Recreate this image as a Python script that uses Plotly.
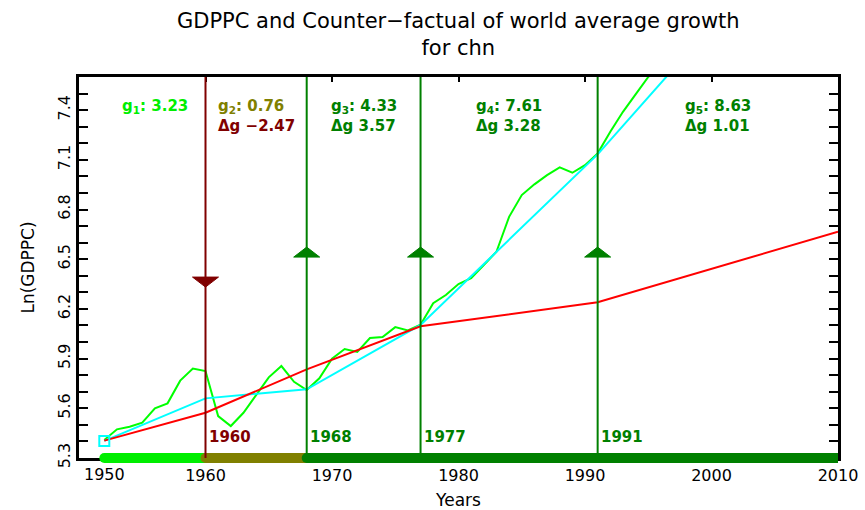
import plotly.graph_objects as go

# Ln GDP per capita, China, 1952-1996 (values above 7.6 run off the top of the frame)
years = list(range(1952, 1997))
ln_gdppc = [5.409, 5.473, 5.489, 5.513, 5.600, 5.630, 5.767, 5.840, 5.825, 5.553,
            5.493, 5.573, 5.680, 5.787, 5.855, 5.760, 5.710, 5.781, 5.900, 5.958,
            5.940, 6.024, 6.030, 6.090, 6.070, 6.105, 6.234, 6.284, 6.350, 6.385,
            6.465, 6.545, 6.756, 6.887, 6.952, 7.008, 7.054, 7.022, 7.068, 7.139,
            7.270, 7.390, 7.495, 7.600, 7.690]

# Piecewise trend and world-average counterfactual at the phase boundaries
node_years = [1952, 1960, 1968, 1977, 1991, 2010]
trend = [5.403, 5.660, 5.715, 6.103, 7.133, 8.770]
counterfactual = [5.405, 5.573, 5.835, 6.095, 6.240, 6.666]

# Phase growth rates and change at each break
g_labels = ["3.23", "0.76", "4.33", "7.61", "8.63"]
dg_labels = ["", "\u22122.47", "3.57", "3.28", "1.01"]
break_years = node_years[1:-1]
arrow_levels = [6.362, 6.543, 6.543, 6.543]

x_ticks = [1950, 1960, 1970, 1980, 1990, 2000, 2010]
y_ticks = [5.3, 5.6, 5.9, 6.2, 6.5, 6.8, 7.1, 7.4]

LIME = "#00ee00"
OLIVE = "#808000"
GREEN = "#008000"
MAROON = "#800000"
phase_colors = [LIME, OLIVE, GREEN, GREEN, GREEN]
break_colors = [MAROON if d.startswith("\u2212") else GREEN for d in dg_labels[1:]]

FONT = "DejaVu Sans"

fig = go.Figure()

fig.add_trace(go.Scatter(x=years, y=ln_gdppc, mode="lines",
                         line=dict(color="#00ff00", width=2), hoverinfo="skip"))
fig.add_trace(go.Scatter(x=node_years, y=trend, mode="lines",
                         line=dict(color="#00ffff", width=2), hoverinfo="skip"))
fig.add_trace(go.Scatter(x=node_years, y=counterfactual, mode="lines",
                         line=dict(color="#ff0000", width=2), hoverinfo="skip"))
fig.add_trace(go.Scatter(x=node_years[:1], y=trend[:1], mode="markers",
                         marker=dict(symbol="square-open", size=10, color="#00ffff",
                                     line=dict(width=2, color="#00ffff")),
                         hoverinfo="skip"))

shapes = []
# phase bar along the bottom axis
for i, col in enumerate(phase_colors):
    x0, x1 = node_years[i], node_years[i + 1]
    shapes.append(dict(type="line", xref="x", yref="paper", x0=x0, x1=x1, y0=0, y1=0,
                       line=dict(color=col, width=10), layer="above"))
    for xc in (x0, x1):
        shapes.append(dict(type="circle", xref="x", yref="paper",
                           xsizemode="pixel", ysizemode="pixel",
                           xanchor=xc, yanchor=0, x0=-5, x1=5, y0=-5, y1=5,
                           fillcolor=col, line=dict(width=0), layer="above"))

# break lines with direction arrows
for yr, col, lvl in zip(break_years, break_colors, arrow_levels):
    shapes.append(dict(type="line", xref="x", yref="paper", x0=yr, x1=yr, y0=0, y1=1,
                       line=dict(color=col, width=2), layer="above"))
    if col == MAROON:
        path = "M-13,5 L13,5 L0,-5 Z"
    else:
        path = "M-13,-5 L13,-5 L0,5 Z"
    shapes.append(dict(type="path", xref="x", yref="y",
                       xsizemode="pixel", ysizemode="pixel",
                       xanchor=yr, yanchor=lvl, path=path,
                       fillcolor=col, line=dict(color=col, width=1), layer="above"))

annotations = []
for i in range(len(g_labels)):
    xm = (node_years[i] + node_years[i + 1]) / 2
    txt = f"<span style='color:{phase_colors[i]}'>g<sub>{i + 1}</sub>: {g_labels[i]}</span>"
    if dg_labels[i]:
        txt += f"<br><span style='color:{break_colors[i - 1]}'>\u0394g {dg_labels[i]}</span>"
    annotations.append(dict(x=xm, y=0.952, xref="x", yref="paper", text=txt,
                            showarrow=False, xanchor="center", yanchor="top",
                            align="left",
                            font=dict(family=FONT, size=15, weight="bold",
                                      color=phase_colors[i])))

for yr, col in zip(break_years, break_colors):
    annotations.append(dict(x=yr, y=0.055, xref="x", yref="paper", text=str(yr),
                            showarrow=False, xanchor="left", yanchor="middle",
                            xshift=1,
                            font=dict(family=FONT, size=15, weight="bold", color=col)))

# first year label sits beside the corner
annotations.append(dict(x=node_years[0], y=0, xref="x", yref="paper", text=str(x_ticks[0]),
                        showarrow=False, xanchor="center", yanchor="top", yshift=-5,
                        font=dict(family=FONT, size=16, color="black")))

# two-line heading
annotations.append(dict(x=0.5, y=1, xref="paper", yref="paper", yshift=70,
                        text="GDPPC and Counter\u2212factual of world average growth<br>for chn",
                        showarrow=False, xanchor="center", yanchor="top", align="center",
                        font=dict(family=FONT, size=21, color="black")))

fig.update_layout(
    width=865, height=510,
    margin=dict(l=79, r=27, t=77, b=52, autoexpand=False),
    paper_bgcolor="white", plot_bgcolor="white",
    showlegend=False,
    font=dict(family=FONT, color="black"),
    shapes=shapes,
    annotations=annotations,
)

fig.update_xaxes(range=[x_ticks[0], x_ticks[-1]], tickmode="array",
                 tickvals=x_ticks[1:], ticktext=[str(v) for v in x_ticks[1:]],
                 ticks="inside", ticklen=5, tickwidth=2, tickcolor="black",
                 showline=True, linewidth=3, linecolor="black", mirror="ticks",
                 showgrid=False, zeroline=False, ticklabelstandoff=1, automargin=False,
                 tickfont=dict(family=FONT, size=16, color="black"),
                 title=dict(text="Years", font=dict(family=FONT, size=17, color="black"),
                            standoff=14))

fig.update_yaxes(range=[y_ticks[0], 7.6], tickmode="array",
                 tickvals=y_ticks, ticktext=[f"{v:.1f}" for v in y_ticks],
                 ticks="inside", ticklen=9, tickwidth=2, tickcolor="black",
                 minor=dict(dtick=0.1, tick0=y_ticks[0], ticks="inside", ticklen=9,
                            tickwidth=2, tickcolor="black"),
                 showline=True, linewidth=3, linecolor="black", mirror="ticks",
                 showgrid=False, zeroline=False, tickangle=-90, automargin=False,
                 tickfont=dict(family=FONT, size=16, color="black"),
                 title=dict(text="Ln(GDPPC)", font=dict(family=FONT, size=17, color="black"),
                            standoff=16))

fig.write_html("out.html")
